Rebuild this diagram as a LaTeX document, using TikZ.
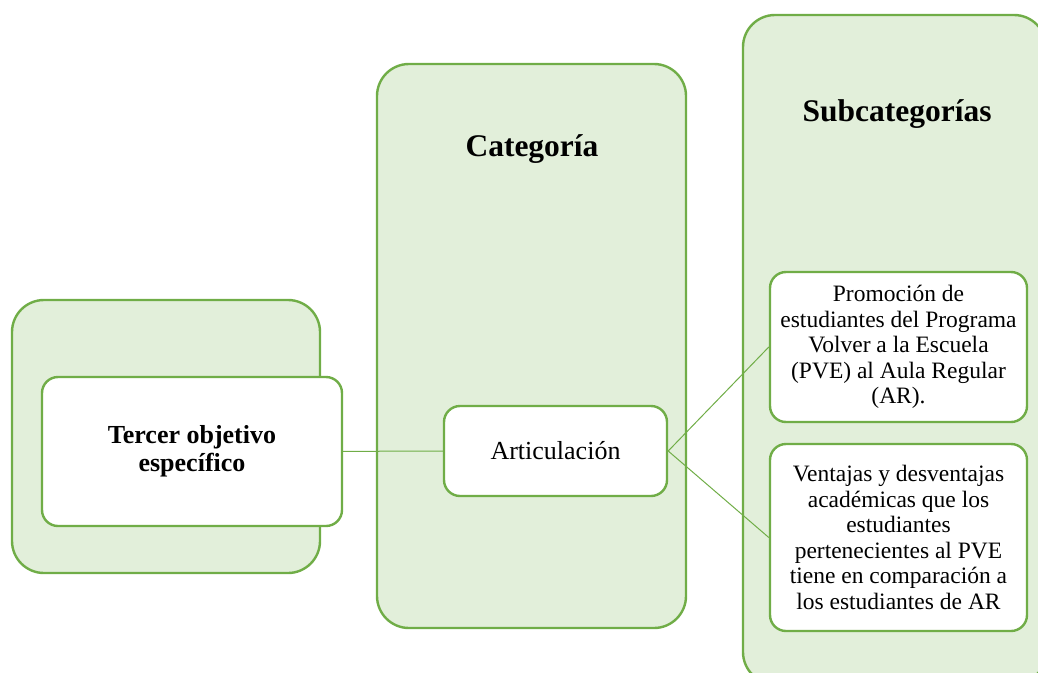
\documentclass[tikz,border=0pt]{standalone}
\usepackage{fontspec}
\setmainfont{Liberation Serif}
\usepackage{xcolor}
\usetikzlibrary{positioning}
\definecolor{panelline}{HTML}{70AD47}
\definecolor{panelfill}{HTML}{E2EFDA}

\begin{document}
\begin{tikzpicture}[x=1pt, y=-1pt,
    panel/.style={draw=panelline, fill=panelfill, line width=2.4pt, rounded corners=32pt},
    card/.style={draw=panelline, fill=white, line width=2.4pt, rounded corners=16pt,
                 align=center, inner sep=0pt},
    title/.style={font=\fontsize{31.5}{34}\selectfont\bfseries},
    link/.style={draw=panelline, line width=1pt}]
    \useasboundingbox (0,0) rectangle (1038,672);
    \clip (0,0) rectangle (1038,672);

    % Background panels
    \draw[panel] (12,300) rectangle (320,573);
    \draw[panel] (377,64) rectangle (686,628);
    \draw[panel] (743,15) rectangle (1046,684);

    % Panel titles
    \node[title] (cattitle) at (532,149) {Categoría};
    \node[title] (subtitle) at (897,114) {Subcategorías};

    % Cards
    \node[card, minimum width=300pt, minimum height=149pt,
          font=\fontsize{26}{28}\selectfont\bfseries] (objetivo) at (192,451.5)
          {Tercer objetivo\\específico};
    \node[card, minimum width=223pt, minimum height=90pt,
          font=\fontsize{26}{28}\selectfont] (articulacion) at (555.5,451) {Articulación};
    \node[card, minimum width=257pt, minimum height=150pt,
          font=\fontsize{23.5}{25.5}\selectfont] (promocion) at (898.5,347)
          {Promoción de\\estudiantes del Programa\\Volver a la Escuela\\(PVE) al Aula Regular\\(AR).};
    \node[card, minimum width=257pt, minimum height=187pt,
          font=\fontsize{23.5}{25.5}\selectfont] (ventajas) at (898.5,537.5)
          {Ventajas y desventajas\\académicas que los\\estudiantes\\pertenecientes al PVE\\tiene en comparación a\\los estudiantes de AR};

    % Connectors
    \draw[link] (objetivo) -- (articulacion);
    \draw[link] (articulacion.east) -- (promocion.west);
    \draw[link] (articulacion.east) -- (ventajas.west);
\end{tikzpicture}
\end{document}
